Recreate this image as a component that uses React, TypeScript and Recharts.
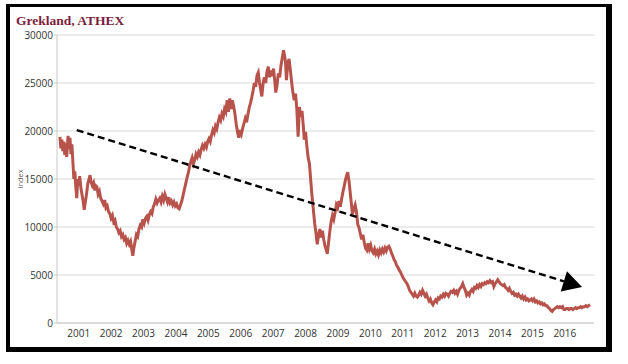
import { LineChart, Line, XAxis, YAxis, CartesianGrid, ReferenceLine } from 'recharts'

// decimal years
const dates = [
  2000.92, 2000.95, 2000.98, 2001.01, 2001.04, 2001.07, 2001.1, 2001.13, 2001.17, 2001.2, 2001.23, 2001.26, 2001.29, 2001.32, 2001.35, 2001.38, 2001.41, 2001.44, 2001.47, 2001.5,
  2001.53, 2001.57, 2001.61, 2001.64, 2001.67, 2001.7, 2001.74, 2001.78, 2001.82, 2001.85, 2001.88, 2001.92, 2001.96, 2002.0, 2002.03, 2002.06, 2002.1, 2002.14, 2002.18, 2002.22,
  2002.26, 2002.3, 2002.34, 2002.38, 2002.42, 2002.46, 2002.5, 2002.54, 2002.58, 2002.62, 2002.66, 2002.7, 2002.74, 2002.78, 2002.82, 2002.86, 2002.9, 2002.94, 2002.98, 2003.02,
  2003.06, 2003.1, 2003.14, 2003.17, 2003.2, 2003.24, 2003.28, 2003.32, 2003.36, 2003.4, 2003.44, 2003.48, 2003.52, 2003.56, 2003.6, 2003.64, 2003.68, 2003.72, 2003.76, 2003.8,
  2003.84, 2003.88, 2003.92, 2003.96, 2004.0, 2004.04, 2004.08, 2004.12, 2004.16, 2004.2, 2004.24, 2004.28, 2004.32, 2004.36, 2004.4, 2004.44, 2004.48, 2004.52, 2004.56, 2004.6,
  2004.64, 2004.68, 2004.72, 2004.76, 2004.8, 2004.84, 2004.88, 2004.92, 2004.96, 2005.0, 2005.04, 2005.08, 2005.12, 2005.16, 2005.2, 2005.24, 2005.28, 2005.32, 2005.36, 2005.4,
  2005.44, 2005.48, 2005.52, 2005.56, 2005.6, 2005.64, 2005.68, 2005.72, 2005.76, 2005.8, 2005.84, 2005.88, 2005.92, 2005.96, 2006.0, 2006.04, 2006.08, 2006.12, 2006.16, 2006.2,
  2006.24, 2006.28, 2006.32, 2006.36, 2006.4, 2006.44, 2006.48, 2006.52, 2006.56, 2006.6, 2006.64, 2006.68, 2006.72, 2006.76, 2006.8, 2006.84, 2006.88, 2006.92, 2006.96, 2007.0,
  2007.04, 2007.08, 2007.12, 2007.15, 2007.19, 2007.23, 2007.27, 2007.31, 2007.35, 2007.39, 2007.43, 2007.47, 2007.51, 2007.55, 2007.58, 2007.62, 2007.66, 2007.7, 2007.74, 2007.78,
  2007.82, 2007.85, 2007.88, 2007.91, 2007.95, 2007.99, 2008.03, 2008.07, 2008.11, 2008.15, 2008.19, 2008.23, 2008.27, 2008.31, 2008.35, 2008.39, 2008.43, 2008.46, 2008.5, 2008.54,
  2008.58, 2008.62, 2008.66, 2008.7, 2008.74, 2008.78, 2008.82, 2008.86, 2008.9, 2008.94, 2008.98, 2009.02, 2009.06, 2009.1, 2009.14, 2009.17, 2009.21, 2009.25, 2009.29, 2009.33,
  2009.37, 2009.41, 2009.45, 2009.49, 2009.53, 2009.57, 2009.61, 2009.65, 2009.69, 2009.73, 2009.77, 2009.8, 2009.84, 2009.88, 2009.92, 2009.95, 2009.99, 2010.03, 2010.07, 2010.11,
  2010.15, 2010.19, 2010.23, 2010.27, 2010.31, 2010.35, 2010.39, 2010.43, 2010.47, 2010.51, 2010.55, 2010.59, 2010.63, 2010.67, 2010.71, 2010.75, 2010.79, 2010.83, 2010.87, 2010.91,
  2010.95, 2010.99, 2011.03, 2011.07, 2011.11, 2011.15, 2011.19, 2011.23, 2011.27, 2011.31, 2011.35, 2011.39, 2011.43, 2011.47, 2011.51, 2011.55, 2011.59, 2011.63, 2011.67, 2011.71,
  2011.75, 2011.79, 2011.83, 2011.87, 2011.91, 2011.95, 2011.99, 2012.03, 2012.07, 2012.11, 2012.15, 2012.19, 2012.23, 2012.27, 2012.31, 2012.35, 2012.39, 2012.43, 2012.47, 2012.51,
  2012.55, 2012.59, 2012.63, 2012.67, 2012.71, 2012.75, 2012.79, 2012.83, 2012.87, 2012.91, 2012.95, 2012.99, 2013.03, 2013.07, 2013.11, 2013.15, 2013.19, 2013.23, 2013.27, 2013.31,
  2013.35, 2013.39, 2013.43, 2013.47, 2013.51, 2013.55, 2013.59, 2013.63, 2013.67, 2013.71, 2013.75, 2013.79, 2013.83, 2013.87, 2013.91, 2013.95, 2013.99, 2014.03, 2014.07, 2014.11,
  2014.15, 2014.19, 2014.23, 2014.27, 2014.31, 2014.35, 2014.39, 2014.43, 2014.47, 2014.51, 2014.55, 2014.59, 2014.63, 2014.67, 2014.71, 2014.75, 2014.79, 2014.83, 2014.87, 2014.91,
  2014.95, 2014.99, 2015.03, 2015.07, 2015.11, 2015.15, 2015.19, 2015.23, 2015.27, 2015.31, 2015.35, 2015.39, 2015.43, 2015.47, 2015.51, 2015.55, 2015.59, 2015.63, 2015.67, 2015.71,
  2015.75, 2015.79, 2015.83, 2015.87, 2015.91, 2015.95, 2015.99, 2016.03, 2016.07, 2016.11, 2016.15, 2016.19, 2016.23, 2016.27, 2016.31, 2016.35, 2016.39, 2016.43, 2016.47, 2016.51,
  2016.55, 2016.59, 2016.63, 2016.67, 2016.71, 2016.75, 2016.79, 2016.83, 2016.87, 2016.91, 2016.95, 2016.99, 2017.03, 2017.07, 2017.11, 2017.15, 2017.19, 2017.23, 2017.28,
]

const values = [
  19400, 18200, 19100, 17900, 18900, 17500, 18700, 17300, 19500, 18100, 19300, 17600, 18600, 16800, 15000, 15800, 14200, 13000, 15000, 14300,
  15300, 14000, 13200, 12600, 11800, 12500, 13400, 14500, 15000, 15400, 14700, 14300, 14600, 13800, 14300, 14200, 13400, 13700, 13000, 12700,
  12400, 12800, 12000, 12200, 11600, 11400, 10900, 11200, 10500, 10700, 10000, 9800, 9400, 9600, 9000, 9200, 8700, 8900, 8300, 8600,
  8200, 8500, 7600, 7000, 7800, 8500, 9200, 9000, 9800, 10200, 10000, 10800, 10400, 10900, 11100, 10700, 11300, 11600, 11400, 12100,
  12400, 12900, 12500, 12800, 13000, 12600, 13200, 12800, 13400, 13000, 12600, 13100, 12500, 12700, 12300, 12600, 12200, 12400, 12000, 11900,
  12300, 12700, 13300, 13900, 14500, 15100, 15600, 16300, 16800, 17200, 16600, 17000, 17600, 17300, 17800, 17500, 18100, 18500, 18200, 18600,
  18300, 18900, 19200, 18900, 19600, 20100, 19800, 20500, 20200, 20900, 21400, 21100, 21800, 21500, 22300, 22000, 23200, 22000, 23400, 22300,
  23200, 22600, 21800, 20700, 19900, 19300, 20100, 19700, 20300, 20800, 21300, 20900, 21700, 22400, 22900, 23500, 24200, 25000, 24600, 25800,
  26100, 25000, 24200, 23600, 25000, 25600, 25000, 26200, 26700, 25600, 26300, 25700, 26500, 25200, 24000, 24800, 26000, 25600, 26800, 27600,
  28400, 27900, 27200, 25300, 27000, 27500, 26400, 25100, 24000, 23200, 23900, 22300, 19400, 22500, 21500, 22100, 20500, 19100, 19900, 18400,
  17200, 16600, 14800, 13200, 11800, 10400, 9400, 8200, 9100, 9800, 8900, 9600, 8700, 8000, 7600, 7200, 8400, 9600, 10600, 11200,
  10800, 11500, 12300, 12000, 12700, 12100, 12900, 13600, 14200, 14900, 15400, 15700, 14800, 13500, 12200, 11300, 11900, 12300, 11600, 10300,
  9900, 9300, 8700, 9200, 8400, 7800, 7600, 8300, 7700, 8100, 7500, 7300, 7700, 7200, 7500, 7100, 7600, 7300, 7700, 7400,
  7800, 7500, 7900, 8000, 7700, 7300, 7000, 6600, 6400, 6000, 5800, 5500, 5300, 5000, 4700, 4500, 4300, 4100, 3800, 3400,
  3200, 3000, 2800, 3100, 2800, 2700, 2900, 3200, 3000, 3400, 3100, 2800, 3000, 2600, 2300, 2500, 2100, 1900, 2200, 2400,
  2200, 2600, 2500, 2800, 2700, 3000, 2800, 3100, 3000, 2800, 3100, 3300, 3200, 3400, 3100, 3300, 3000, 3400, 3600, 3800,
  4100, 3700, 3400, 2900, 3100, 2900, 3300, 3500, 3300, 3700, 3600, 3900, 3700, 4000, 3800, 4100, 4000, 4200, 4100, 4300,
  4200, 4400, 4200, 4300, 3800, 4100, 4300, 4500, 4300, 4100, 4000, 3900, 4000, 3700, 3600, 3400, 3600, 3300, 3100, 3200,
  2900, 3000, 2800, 3000, 2800, 2600, 2800, 2500, 2700, 2400, 2500, 2300, 2400, 2500, 2300, 2500, 2200, 2300, 2100, 2200,
  2000, 2100, 1900, 2000, 1800, 1800, 1600, 1500, 1300, 1200, 1400, 1500, 1600, 1700, 1600, 1700, 1600, 1700, 1400, 1400,
  1500, 1500, 1400, 1500, 1500, 1400, 1500, 1600, 1500, 1600, 1600, 1700, 1600, 1700, 1700, 1800, 1700, 1800, 1900,
]

const yearLabels = [2001, 2002, 2003, 2004, 2005, 2006, 2007, 2008, 2009, 2010, 2011, 2012, 2013, 2014, 2015, 2016]
const yearBounds = [2001, 2002, 2003, 2004, 2005, 2006, 2007, 2008, 2009, 2010, 2011, 2012, 2013, 2014, 2015, 2016, 2017]
const yTicks = [0, 5000, 10000, 15000, 20000, 25000, 30000]
const xDomain = [2000.83, 2017.4]

// dashed trend arrow
const trendStart = { x: 2001.44, y: 20100 }
const trendEnd = { x: 2017.03, y: 3750 }

const chartData = dates.map((d, i) => ({ date: d, index: values[i] }))

const axisGray = '#c9c9c9'
const tickFont = { fontSize: 10, fill: '#333', fontFamily: '"Open Sans", sans-serif' }

function TrendArrow(props: any) {
  const { x1, y1, x2, y2 } = props
  const dx = x2 - x1
  const dy = y2 - y1
  const len = Math.sqrt(dx * dx + dy * dy)
  const ux = dx / len
  const uy = dy / len
  const headLen = 19
  const halfW = 10.5
  const bx = x2 - ux * headLen
  const by = y2 - uy * headLen
  return (
    <g>
      <line x1={x1} y1={y1} x2={bx} y2={by} stroke="#000" strokeWidth={2.4} strokeDasharray="7 4" />
      <polygon
        points={`${x2},${y2} ${bx - uy * halfW},${by + ux * halfW} ${bx + uy * halfW},${by - ux * halfW}`}
        fill="#000"
      />
    </g>
  )
}

export default function App() {
  return (
    <div style={{ position: 'absolute', left: 0, top: 0, width: 628, height: 364, background: '#fff' }}>
      <div
        style={{
          position: 'absolute',
          left: 6,
          top: 4,
          width: 606,
          height: 348,
          boxSizing: 'border-box',
          borderStyle: 'solid',
          borderColor: '#000',
          borderWidth: '3px 6px 5px 4px',
        }}
      />
      <div
        style={{
          position: 'absolute',
          left: 16,
          top: 14,
          lineHeight: '14px',
          fontSize: 13.5,
          fontWeight: 'bold',
          fontFamily: '"Liberation Serif", serif',
          color: '#7b1e3c',
          whiteSpace: 'nowrap',
        }}
      >
        Grekland, ATHEX
      </div>
      <div style={{ position: 'absolute', left: 0, top: 0 }}>
        <LineChart width={628} height={364} data={chartData} margin={{ top: 35, right: 34, bottom: 0, left: 0 }}>
          <CartesianGrid vertical={false} stroke="#dadada" />
          <XAxis
            xAxisId="bounds"
            type="number"
            dataKey="date"
            domain={xDomain}
            allowDataOverflow
            ticks={yearBounds}
            interval={0}
            tick={false}
            tickSize={3}
            tickLine={{ stroke: axisGray }}
            axisLine={false}
            height={0}
          />
          <XAxis
            xAxisId="years"
            type="number"
            dataKey="date"
            domain={xDomain}
            allowDataOverflow
            ticks={yearLabels.map(y => y + 0.5)}
            interval={0}
            tickFormatter={(v: number) => String(Math.floor(v))}
            tick={tickFont}
            tickLine={false}
            tickSize={0}
            tickMargin={7}
            axisLine={{ stroke: axisGray }}
            height={41}
          />
          <YAxis
            domain={[0, 30000]}
            ticks={yTicks}
            interval={0}
            width={57}
            tick={tickFont}
            tickSize={3}
            tickMargin={1}
            tickLine={{ stroke: axisGray }}
            axisLine={{ stroke: axisGray }}
            label={{
              value: 'Index',
              angle: -90,
              position: 'insideLeft',
              offset: 20,
              style: { fontSize: 7.5, fill: '#666', textAnchor: 'middle', fontFamily: '"Open Sans", sans-serif' },
            }}
          />
          <Line
            xAxisId="years"
            type="linear"
            dataKey="index"
            stroke="#b8534b"
            strokeWidth={3}
            dot={false}
            isAnimationActive={false}
          />
          <ReferenceLine
            xAxisId="years"
            segment={[trendStart, trendEnd]}
            ifOverflow="visible"
            shape={TrendArrow}
          />
        </LineChart>
      </div>
    </div>
  )
}
